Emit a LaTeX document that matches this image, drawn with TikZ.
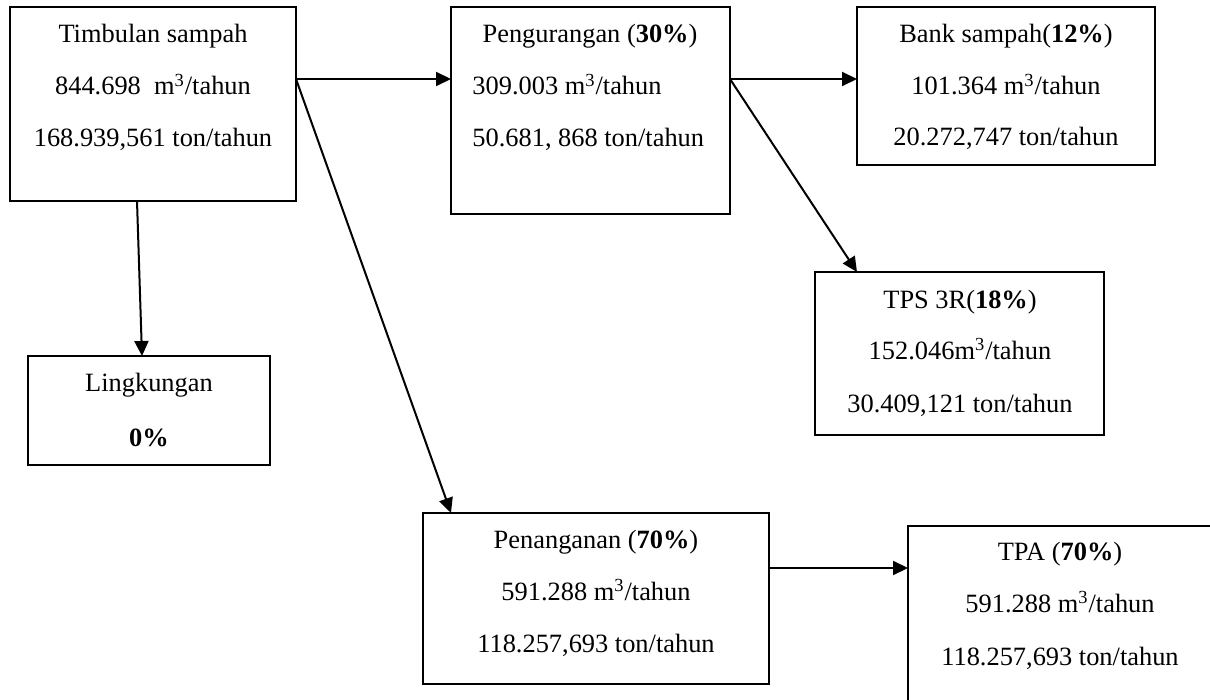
\documentclass[tikz,border=0pt]{standalone}
\usepackage{fontspec}
\setmainfont{Liberation Serif}
\usetikzlibrary{arrows.meta}

\begin{document}
\begin{tikzpicture}[x=0.5pt, y=-0.5pt,
    kotak/.style={draw, line width=1pt, inner sep=0pt, outer sep=0pt},
    teks/.style={anchor=base, inner sep=0pt, font=\fontsize{13.2}{15}\selectfont},
    panah/.style={line width=1pt, -{Triangle[length=7.5pt, width=7pt]}}]
  \clip (0,0) rectangle (1210,700);
  \fill[white] (0,0) rectangle (1210,700);
  % kotak
  \node[kotak, minimum width=143pt, minimum height=97pt] (timbulan) at (153,104) {};
  \node[kotak, minimum width=139.5pt, minimum height=103.5pt] (pengurangan) at (590.5,110.5) {};
  \node[kotak, minimum width=149pt, minimum height=79pt] (bank) at (1006,86) {};
  \node[kotak, minimum width=144.5pt, minimum height=81.5pt] (tps) at (959.5,353.5) {};
  \node[kotak, minimum width=121pt, minimum height=54.5pt] (lingkungan) at (149,410.5) {};
  \node[kotak, minimum width=173pt, minimum height=85.5pt] (penanganan) at (596,598.5) {};
  \node[kotak, minimum width=153pt, minimum height=102pt] (tpa) at (1061,628) {};
  % teks
  \node[teks] (timbulan1) at (153,43) {Timbulan sampah};
  \node[teks] (timbulan2) at (153,95) {844.698\ \ m\textsuperscript{3}/tahun};
  \node[teks] (timbulan3) at (153,147) {168.939,561 ton/tahun};
  \node[teks] (pengurangan1) at (590,43) {Pengurangan (\textbf{30\%})};
  \node[teks, anchor=base west] (pengurangan2) at (472,95) {309.003 m\textsuperscript{3}/tahun};
  \node[teks, anchor=base west] (pengurangan3) at (472,147) {50.681, 868 ton/tahun};
  \node[teks] (bank1) at (1006,43) {Bank sampah(\textbf{12\%})};
  \node[teks] (bank2) at (1006,95) {101.364 m\textsuperscript{3}/tahun};
  \node[teks] (bank3) at (1006,146) {20.272,747 ton/tahun};
  \node[teks] (tps1) at (960,308) {TPS 3R(\textbf{18\%})};
  \node[teks] (tps2) at (960,359) {152.046m\textsuperscript{3}/tahun};
  \node[teks] (tps3) at (960,412) {30.409,121 ton/tahun};
  \node[teks] (lingkungan1) at (149,391) {Lingkungan};
  \node[teks] (lingkungan2) at (149,446) {\textbf{0\%}};
  \node[teks] (penanganan1) at (596,548) {Penanganan (\textbf{70\%})};
  \node[teks] (penanganan2) at (596,600) {591.288 m\textsuperscript{3}/tahun};
  \node[teks] (penanganan3) at (596,652) {118.257,693 ton/tahun};
  \node[teks] (tpa1) at (1060,560) {TPA (\textbf{70\%})};
  \node[teks] (tpa2) at (1060,612) {591.288 m\textsuperscript{3}/tahun};
  \node[teks] (tpa3) at (1060,665) {118.257,693 ton/tahun};
  % panah
  \coordinate (k1) at (296,79);
  \coordinate (k2) at (730,79);
  \coordinate (k3) at (769,568);
  \draw[panah] (k1) -- (k1 -| pengurangan.west);
  \draw[panah] (k1) -- ([xshift=14pt]penanganan.north west);
  \draw[panah] ([xshift=-8pt]timbulan.south) -- ([xshift=-3.5pt]lingkungan.north);
  \draw[panah] (k2) -- (k2 -| bank.west);
  \draw[panah] (k2) -- ([xshift=21pt]tps.north west);
  \draw[panah] (k3) -- (k3 -| tpa.west);
\end{tikzpicture}
\end{document}
